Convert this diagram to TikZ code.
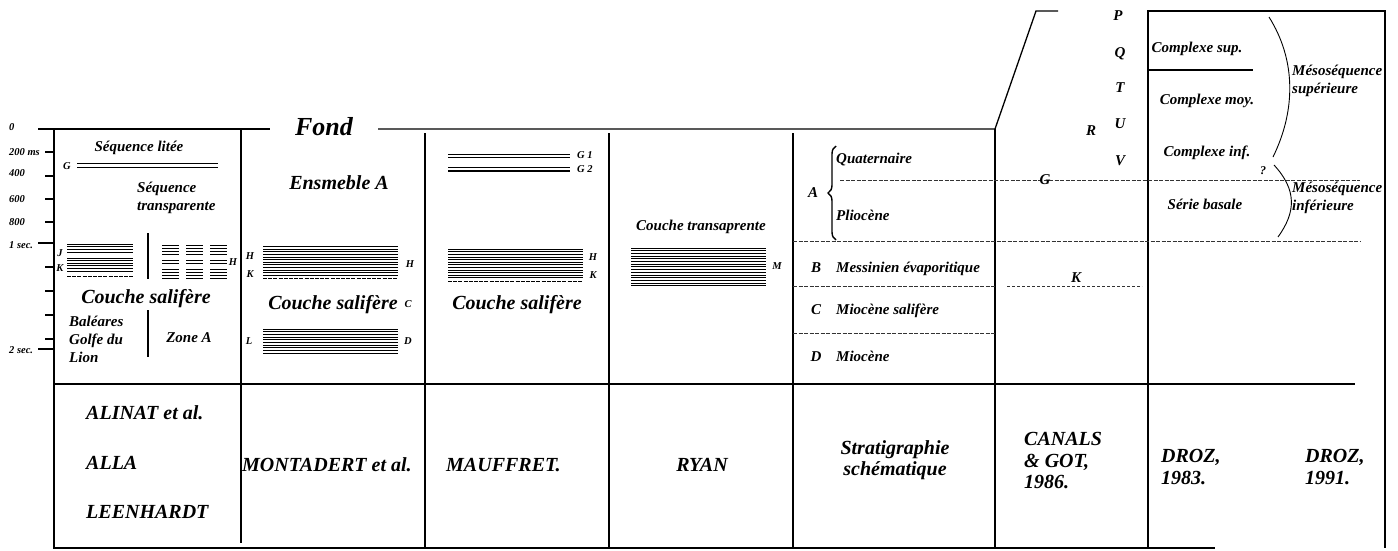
\documentclass[tikz,border=0pt]{standalone}
\usepackage{fontspec}
\setmainfont{Liberation Serif}
\usetikzlibrary{positioning,decorations.pathreplacing}

\begin{document}
\begin{tikzpicture}[x=1pt, y=-1pt,
  txt/.style={font=\bfseries\itshape\fontsize{15}{18}\selectfont, inner sep=0pt},
  mtxt/.style={font=\bfseries\itshape\fontsize{15}{18}\selectfont, inner sep=0pt, align=left},
  axislbl/.style={font=\bfseries\itshape\fontsize{10.5}{12}\selectfont, inner sep=0pt},
  salt/.style={font=\bfseries\itshape\fontsize{20}{24}\selectfont, inner sep=0pt},
  ref/.style={font=\bfseries\itshape\fontsize{20}{21.5}\selectfont, inner sep=0pt, align=left},
  frame/.style={line width=1.3pt},
  reflector/.style={line width=1pt},
  saltbase/.style={line width=1pt, dash pattern=on 4pt off 1.2pt},
  horizon/.style={line width=0.9pt, dash pattern=on 4pt off 1.5pt, black!80}
]
  \useasboundingbox (0,0) rectangle (1398,550);

  \draw[frame] (38,129) -- (270,129);
  \draw[frame] (378,129) -- (995,129) -- (1036,11) -- (1058,11);
  \draw[frame] (1148,548) -- (1148,11) -- (1385,11) -- (1385,548);
  \draw[frame] (54,129) -- (54,548) -- (1215,548);
  \draw[frame] (54,384) -- (1355,384);
  \draw[frame] (241,129) -- (241,543);
  \foreach \x in {425,609,793} \draw[frame] (\x,133) -- (\x,548);
  \draw[frame] (995,129) -- (995,548);
  \draw[frame] (1148,70) -- (1253,70);

  \foreach \y in {152,176,199,222,267,291,315,339} \draw[frame] (45,\y) -- (54,\y);
  \foreach \y in {243,349} \draw[frame] (38,\y) -- (54,\y);
  \node[axislbl, anchor=base west] (t0) at (9,130.3) {0};
  \node[axislbl, anchor=base west] (t200) at (9,155.3) {200 ms};
  \node[axislbl, anchor=base west] (t400) at (9,176.3) {400};
  \node[axislbl, anchor=base west] (t600) at (9,202.3) {600};
  \node[axislbl, anchor=base west] (t800) at (9,225.3) {800};
  \node[axislbl, anchor=base west] (t1s) at (9,248.3) {1 sec.};
  \node[axislbl, anchor=base west] (t2s) at (9,353.3) {2 sec.};

  \node[txt, anchor=base] (litee) at (139,151) {Séquence litée};
  \foreach \y in {163.3,167.3} \draw[line width=0.9pt] (77,\y) -- (218,\y);
  \node[axislbl, anchor=base] (gA) at (67,169.3) {G};
  \node[mtxt, anchor=west] (transp) at (137,197.4) {Séquence\\transparente};
  \foreach \y in {244,246.7,249.4,252.1,258,260.6,263.2,265.8,268.4,271} \draw[reflector] (67,\y) -- (133,\y);
  \draw[saltbase] (67,276) -- (133,276);
  \node[axislbl, anchor=base] (jA) at (60,256.3) {J};
  \node[axislbl, anchor=base] (kA) at (60,271.3) {K};
  \draw[frame] (148,233) -- (148,279);
  \foreach \x in {162,186,210}
    \foreach \y in {245,248,251,254,260,263,269,272,275,278} \draw[reflector] (\x,\y) -- ++(17,0);
  \node[axislbl, anchor=base] (hA) at (233,265.3) {H};
  \node[salt, anchor=base] (saltA) at (146,303.6) {Couche salifère};
  \draw[frame] (148,310) -- (148,357);
  \node[mtxt, anchor=west] (baleares) at (69,339) {Baléares\\Golfe du\\Lion};
  \node[txt, anchor=base] (zoneA) at (189,342) {Zone A};

  \node[font=\bfseries\itshape\fontsize{26}{30}\selectfont, inner sep=0pt, anchor=base] (fond) at (324,135) {Fond};
  \node[font=\bfseries\itshape\fontsize{20}{24}\selectfont, inner sep=0pt, anchor=base] (ensA) at (339,189.5) {Ensmeble A};
  \foreach \i in {0,...,11} \draw[reflector] (263,{246.7+2.6*\i}) -- (398,{246.7+2.6*\i});
  \draw[saltbase] (263,278.3) -- (398,278.3);
  \node[axislbl, anchor=base] (hB) at (250,259.3) {H};
  \node[axislbl, anchor=base] (kB) at (250,277.3) {K};
  \node[axislbl, anchor=base] (hB2) at (410,267.3) {H};
  \node[salt, anchor=base] (saltB) at (333,309.6) {Couche salifère};
  \node[axislbl, anchor=base] (cB) at (408,307.3) {C};
  \foreach \i in {0,...,9} \draw[reflector] (263,{329+2.67*\i}) -- (398,{329+2.67*\i});
  \node[axislbl, anchor=base] (lB) at (249,344.3) {L};
  \node[axislbl, anchor=base] (dB) at (408,344.3) {D};

  \foreach \y in {154.3,157.5,167.7,171} \draw[line width=1.3pt] (448,\y) -- (570,\y);
  \node[axislbl, anchor=base west] (g1) at (577,158.3) {G 1};
  \node[axislbl, anchor=base west] (g2) at (577,172.3) {G 2};
  \foreach \i in {0,...,11} \draw[reflector] (448,{249.3+2.6*\i}) -- (583,{249.3+2.6*\i});
  \draw[saltbase] (448,281.7) -- (583,281.7);
  \node[axislbl, anchor=base] (hC) at (593,260.3) {H};
  \node[axislbl, anchor=base] (kC) at (593,278.3) {K};
  \node[salt, anchor=base] (saltC) at (517,309.6) {Couche salifère};

  \node[txt, anchor=base] (transD) at (701,230) {Couche transaprente};
  \foreach \i in {0,...,14} \draw[reflector] (631,{248+2.7*\i}) -- (766,{248+2.7*\i});
  \node[axislbl, anchor=base] (mD) at (777,269.3) {M};

  \draw[line width=1.4pt, decorate, decoration={brace, amplitude=8pt}] (836,240) -- (836,146);
  \node[txt, anchor=base] (unitA) at (813,197) {A};
  \node[txt, anchor=base west] (quat) at (836,163) {Quaternaire};
  \node[txt, anchor=base west] (plio) at (836,220) {Pliocène};
  \node[txt, anchor=base] (unitB) at (816,272) {B};
  \node[txt, anchor=base west] (mess) at (836,272) {Messinien évaporitique};
  \node[txt, anchor=base] (unitC) at (816,314) {C};
  \node[txt, anchor=base west] (mioS) at (836,314) {Miocène salifère};
  \node[txt, anchor=base] (unitD) at (816,361) {D};
  \node[txt, anchor=base west] (mio) at (836,361) {Miocène};
  \draw[horizon] (840,180) -- (1360,180);
  \draw[horizon] (793,241) -- (1361,241);
  \draw[horizon] (793,286) -- (995,286);
  \draw[horizon] (793,333) -- (995,333);

  \node[txt, anchor=base] (gE) at (1045,184) {G};
  \draw[horizon, dash pattern=on 3pt off 2pt] (1007,286) -- (1142,286);
  \node[txt, anchor=base] (kE) at (1076,282) {K};
  \node[txt, anchor=base] (pE) at (1118,20) {P};
  \node[txt, anchor=base] (qE) at (1120,57) {Q};
  \node[txt, anchor=base] (tE) at (1120,92) {T};
  \node[txt, anchor=base] (uE) at (1120,128) {U};
  \node[txt, anchor=base] (vE) at (1120,165) {V};
  \node[txt, anchor=base] (rE) at (1091,135) {R};

  \node[txt, anchor=base] (csup) at (1197,52) {Complexe sup.};
  \node[txt, anchor=base] (cmoy) at (1207,104) {Complexe moy.};
  \node[txt, anchor=base] (cinf) at (1207,156) {Complexe inf.};
  \node[font=\bfseries\itshape\fontsize{12}{14}\selectfont, inner sep=0pt, anchor=base] (quest) at (1263,174) {?};
  \node[txt, anchor=base] (basale) at (1205,209) {Série basale};
  \draw[line width=0.9pt] (1269,17) .. controls (1296,60) and (1296,110) .. (1273,157);
  \draw[line width=0.9pt] (1274,165) .. controls (1297,190) and (1296,212) .. (1278,237);
  \node[mtxt, anchor=west] (mesoS) at (1292,81) {Mésoséquence\\supérieure};
  \node[mtxt, anchor=west] (mesoI) at (1292,198) {Mésoséquence\\inférieure};

  \node[ref, anchor=base west] (alinat) at (86,419.5) {ALINAT et al.};
  \node[ref, anchor=base west] (alla) at (86,469.5) {ALLA};
  \node[ref, anchor=base west] (leenh) at (86,518.5) {LEENHARDT};
  \node[ref, anchor=base west] (montad) at (242,471.5) {MONTADERT et al.};
  \node[ref, anchor=base west] (mauff) at (446,471.5) {MAUFFRET.};
  \node[ref, anchor=base] (ryan) at (702,471.5) {RYAN};
  \node[ref, align=center] (strat) at (895,460) {Stratigraphie\\schématique};
  \node[ref, anchor=west] (canals) at (1024,461) {CANALS\\\& GOT,\\1986.};
  \node[ref, anchor=west] (droz83) at (1161,467) {DROZ,\\1983.};
  \node[ref, anchor=west] (droz91) at (1305,467) {DROZ,\\1991.};
\end{tikzpicture}
\end{document}
